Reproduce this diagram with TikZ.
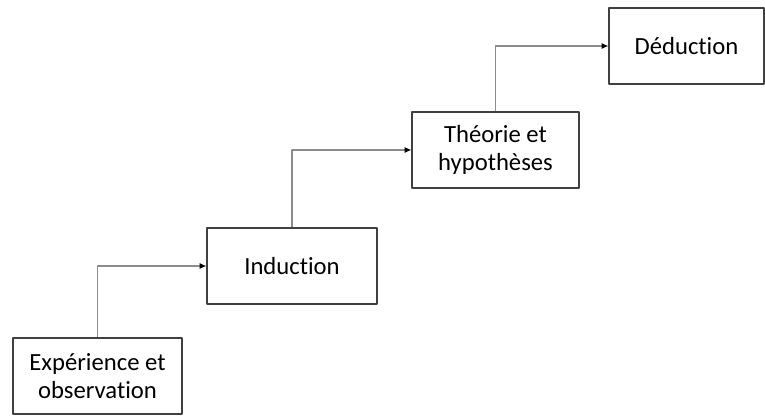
\documentclass[tikz,border=0pt]{standalone}
\usepackage{fontspec}
\setmainfont[Ligatures=NoCommon]{Carlito}
\usetikzlibrary{arrows.meta}

\begin{document}
\begin{tikzpicture}[x=0.75pt, y=0.75pt, line join=round,
    etape/.style={draw=black!75, line width=1pt, minimum height=57pt, inner sep=0pt,
      align=center, font=\fontsize{18.5}{21}\selectfont},
    fleche/.style={draw=black!45, line width=0.8pt, -{Latex[length=5pt,width=4.5pt,color=black]}}]

                \useasboundingbox (0,0) rectangle (765,415);

                \node[etape, minimum width=126.75pt] (experience) at (97.5,39) {Expérience et\\observation};
                \node[etape, minimum width=127.5pt] (induction) at (292,149) {Induction};
                \node[etape, minimum width=125.25pt] (theorie) at (495.5,265) {Théorie et\\hypothèses};
                \node[etape, minimum width=116.25pt] (deduction) at (686.5,369) {Déduction};

                \draw[fleche] (experience.north) |- (induction.west);
                \draw[fleche] (induction.north) |- (theorie.west);
                \draw[fleche] (theorie.north) |- (deduction.west);
              \end{tikzpicture}
\end{document}
